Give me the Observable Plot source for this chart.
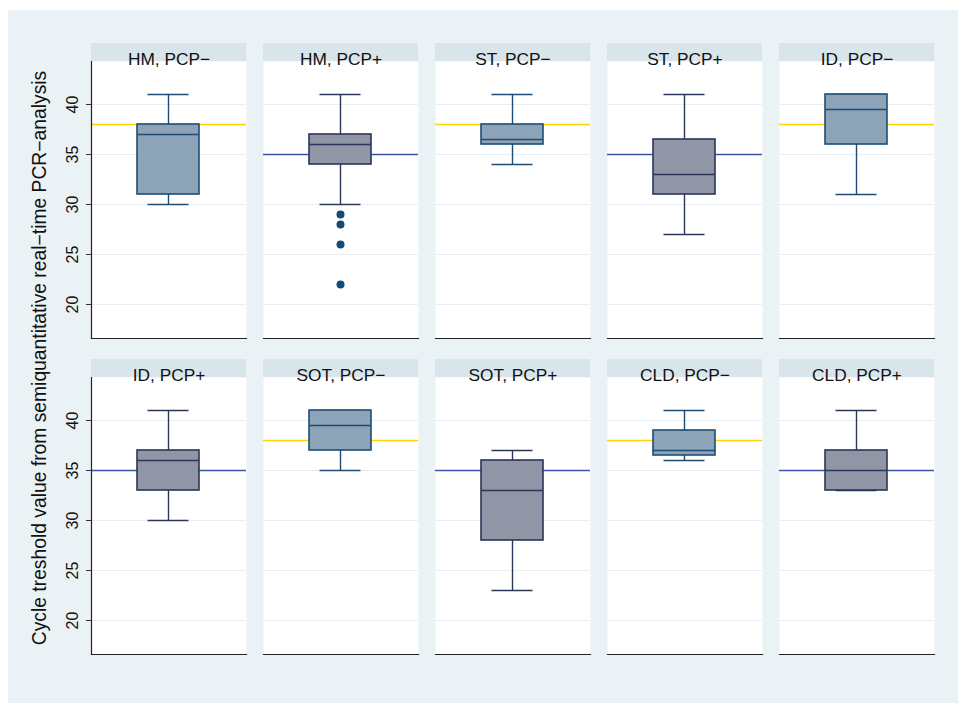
<!DOCTYPE html>
<html>
<head>
<meta charset="utf-8">
<script src="https://cdn.jsdelivr.net/npm/d3@7"></script>
<script src="https://cdn.jsdelivr.net/npm/@observablehq/plot@0.6"></script>
<style>
  html, body { margin: 0; padding: 0; background: #ffffff; }
  body { width: 958px; height: 703px; position: relative; overflow: hidden; font-family: "Liberation Sans", Arial, sans-serif; }
  #chart { position: absolute; left: 8px; top: 10px; }
  #ytitle { position: absolute; left: 40px; top: 358px; transform: translate(-50%, -50%) rotate(-90deg); white-space: nowrap; font-size: 19.3px; color: #111; }
</style>
</head>
<body>
<div id="chart"></div>
<div id="ytitle">Cycle treshold value from semiquantitative real−time PCR−analysis</div>
<script>
// ---- data ----
const panels = ["HM, PCP−", "HM, PCP+", "ST, PCP−", "ST, PCP+", "ID, PCP−",
                "ID, PCP+", "SOT, PCP−", "SOT, PCP+", "CLD, PCP−", "CLD, PCP+"];
const groups = ["PCP−", "PCP+", "PCP−", "PCP+", "PCP−", "PCP+", "PCP−", "PCP+", "PCP−", "PCP+"];
const whiskerLow  = [30, 30, 34, 27, 31, 30, 35, 23, 36,   33];
const q1          = [31, 34, 36, 31, 36, 33, 37, 28, 36.5, 33];
const medians     = [37, 36, 36.5, 33, 39.5, 36, 39.5, 33, 37, 35];
const q3          = [38, 37, 38, 36.5, 41, 37, 41, 36, 39, 37];
const whiskerHigh = [41, 41, 41, 41, 41, 41, 41, 37, 41, 41];
const outlierPanel = ["HM, PCP+", "HM, PCP+", "HM, PCP+", "HM, PCP+"];
const outlierValue = [29, 28, 26, 22];
const refGroups = ["PCP−", "PCP+"];
const refValues = [38, 35];
const yTicks = [20, 25, 30, 35, 40];
const yDomain = [16.6, 44.3];

// ---- styles ----
const boxFill   = {"PCP−": "#8ca3b8", "PCP+": "#9196a7"};
const boxStroke = {"PCP−": "#1d4b73", "PCP+": "#2b3658"};
const refColor  = {"PCP−": "#ffd200", "PCP+": "#3b54a6"};

const stats = panels.map((p, i) => ({
  panel: p, group: groups[i], col: i % 5, row: Math.floor(i / 5),
  lo: whiskerLow[i], q1: q1[i], med: medians[i], q3: q3[i], hi: whiskerHigh[i],
  ref: refValues[refGroups.indexOf(groups[i])]
}));
const outliers = outlierPanel.map((p, i) => {
  const k = panels.indexOf(p);
  return {panel: p, col: k % 5, row: Math.floor(k / 5), value: outlierValue[i]};
});

const F = {fx: "col", fy: "row"};
const bx = () => "box";

const marks = [
  Plot.frame({fill: "white", stroke: "none"}),
  Plot.rect(stats, {...F, y1: () => yDomain[1], y2: () => yDomain[1], insetTop: -18, fill: "#d8e5eb"}),
  Plot.text(stats, {...F, text: "panel", frameAnchor: "top", dy: -9, fontSize: 17.3, fill: "#111"}),
  Plot.gridY(yTicks, {stroke: "#e8eff3", strokeOpacity: 1, strokeWidth: 1.2}),
];
for (const g of refGroups) {
  const d = stats.filter(s => s.group === g);
  marks.push(Plot.ruleY(d, {...F, y: "ref", stroke: refColor[g], strokeWidth: 1.4}));
}
for (const g of refGroups) {
  const d = stats.filter(s => s.group === g);
  const st = boxStroke[g];
  marks.push(
    Plot.ruleX(d, {...F, x: bx, y1: "lo", y2: "q1", stroke: st, strokeWidth: 1.4}),
    Plot.ruleX(d, {...F, x: bx, y1: "q3", y2: "hi", stroke: st, strokeWidth: 1.4}),
    Plot.tickY(d, {...F, x: bx, y: "lo", stroke: st, strokeWidth: 1.6, insetLeft: 10.5, insetRight: 10.5}),
    Plot.tickY(d, {...F, x: bx, y: "hi", stroke: st, strokeWidth: 1.6, insetLeft: 10.5, insetRight: 10.5}),
    Plot.barY(d, {...F, x: bx, y1: "q1", y2: "q3", fill: boxFill[g], stroke: st, strokeWidth: 1.6}),
    Plot.tickY(d, {...F, x: bx, y: "med", stroke: st, strokeWidth: 1.6})
  );
}
marks.push(
  Plot.dot(outliers, {...F, x: bx, y: "value", r: 4, fill: "#164a72", stroke: "none"}),
  Plot.frame({anchor: "bottom", stroke: "#222", strokeWidth: 1.2}),
  Plot.frame({anchor: "left", facetAnchor: "left", stroke: "#222", strokeWidth: 1.2}),
  Plot.axisY({ticks: yTicks, tickSize: 5, tickPadding: 9, tickRotate: -90, fontSize: 16, label: null, stroke: "#333", fill: "#111"})
);

const chart = Plot.plot({
  width: 950,
  height: 693,
  marginLeft: 81,
  marginRight: 22,
  marginTop: 51,
  marginBottom: 49,
  style: {background: "#eaf2f5", fontFamily: "'Liberation Sans', Arial, sans-serif", overflow: "visible"},
  fx: {domain: [0, 1, 2, 3, 4], paddingInner: 17 / 173, paddingOuter: 0, axis: null},
  fy: {domain: [0, 1], paddingInner: 39 / 316, paddingOuter: 0, axis: null},
  x: {domain: ["box"], padding: 0.4245, axis: null},
  y: {domain: yDomain, axis: null},
  marks
});
document.getElementById("chart").appendChild(chart);
</script>
</body>
</html>
